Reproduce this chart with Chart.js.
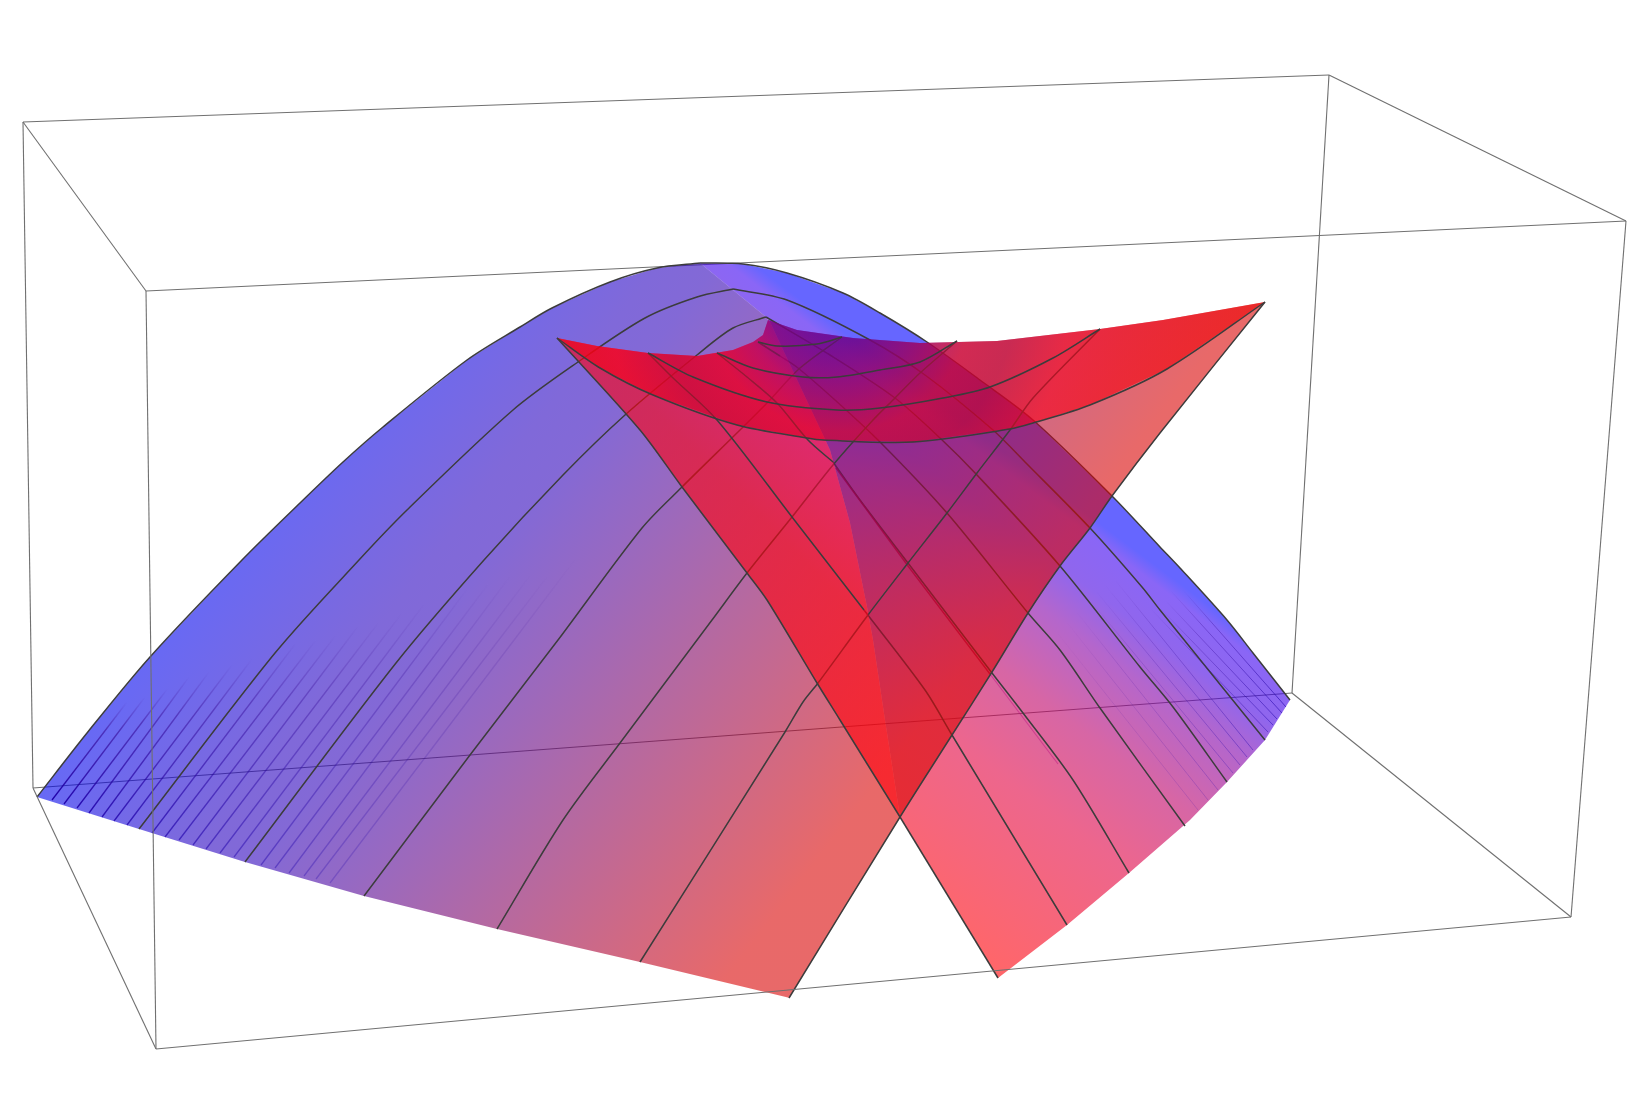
<!DOCTYPE html>
<html><head><meta charset="utf-8">
<style>html,body{margin:0;padding:0;background:#fff}canvas{display:block}</style>
<script src="https://cdn.jsdelivr.net/npm/chart.js@4/dist/chart.umd.min.js"></script>
</head><body><canvas id="c" width="1638" height="1112"></canvas>
<script>
// Box edges
const boxBack = [
 [[23,122],[1329,75]],[[1329,75],[1626,221]],[[1626,221],[146,291]],[[146,291],[23,122]],
 [[23,122],[33,788]],[[1329,75],[1292,693]],[[33,788],[1292,693]],[[1292,693],[1571,917]],[[1626,221],[1571,917]]];
const boxFront = [[[146,291],[156,1049]],[[156,1049],[1571,917]],[[156,1049],[33,788]]];
// Surface outline pieces
const silhouetteL = [[37,797],[87,733],[150,657],[242,560],[300,503],[343,462],[383,427],[467,360],[520,327],[552,308],[610,282],[657,268],[700,263]];
const silhouetteR = [[700,263],[743,264],[787,273],[843,293],[880,313],[927,342],[980,380],[1033,420],[1112,496],[1160,547],[1180,568],[1227,620],[1253,653],[1290,700]];
const frontLeftEdge = [[37,797],[139,829],[245,862],[364,896],[497,929],[640,962],[790,998]];
const frontRightEdge = [[1290,700],[1265,740],[1227,782],[1190,820],[1129,873],[1067,925],[998,978]];
const foldLine = [[900,817],[885,720],[873,640],[867,607],[850,523],[830,450],[770,322],[766,317]];
const cuspLeft = [[557,338],[597,346],[648,353],[697,356],[733,350],[753,342],[763,335],[768,320],[766,317]];
const cuspRight = [[766,317],[768,320],[797,330],[853,338],[920,343],[997,341],[1100,329],[1163,320],[1265,302]];
// Mesh curves
const arc1L = [[139,829],[275,653],[359,560],[407,510],[513,410],[578,362],[645,318],[697,297],[733,289]];
const arc1R = [[733,289],[787,300],[870,340],[925,375],[993,430],[1025,462],[1090,528],[1142,587],[1160,610],[1227,693],[1265,740]];
const arc2L = [[245,862],[396,663],[484,560],[563,475],[625,415],[697,355],[733,328],[766,317]];
const arc2R = [[766,317],[830,355],[895,398],[940,438],[977,475],[1060,566],[1140,667],[1173,707],[1227,782]];
const arc3L = [[364,896],[470,755],[558,640],[642,528],[682,487],[740,430],[768,402],[800,368],[842,337]];
const arc3Rback = [[780,356],[798,368],[835,400],[880,442],[947,513],[1028,613],[1060,650],[1100,708],[1185,826]];
const arc3Rfront = [[758,342],[780,356]];
const arc4L = [[497,929],[563,820],[620,743],[712,620],[747,573],[792,517],[833,465],[873,420],[895,398],[920,373],[957,341]];
const arc4Rfront = [[717,353],[747,377],[777,403],[808,440],[833,462]];
const arc4Rback = [[833,462],[860,500],[908,563],[992,673],[1023,713],[1073,780],[1129,873]];
const arc5L = [[640,962],[785,732],[803,702],[818,683],[868,615],[908,563],[947,513],[977,473],[1010,430],[1033,398],[1100,329]];
const arc5Rfront = [[648,353],[672,377],[717,420],[792,517],[864,610]];
const arc5Rback = [[864,610],[925,690],[952,735],[1067,925]];
const arc6L = [[789,998],[900,817],[952,735],[992,672],[1028,613],[1060,566],[1090,528],[1112,496],[1160,433],[1265,302]];
const arc6Rfront = [[557,338],[640,430],[682,487],[747,573],[767,600],[817,683],[840,720],[900,817]];
const arc6Rback = [[900,817],[998,978]];
const capFront = [[557,338],[600,368],[653,395],[737,425],[807,438],[823,440],[913,442],[1010,429],[1033,423],[1090,405],[1167,369],[1265,302]];
const capMid5 = [[648,353],[693,377],[767,402],[837,410],[880,408],[943,398],[990,387],[1053,358],[1100,329]];
const capMid4 = [[717,353],[753,368],[803,377],[837,377],[880,370],[920,362],[957,341]];
const capMid3 = [[758,342],[777,346],[817,344],[842,337]];
const shadowInner = [[836,468],[908,566],[990,674]];
const shadowOuter = [[990,674],[1058,764]];
// Fine mesh lines near the surface edges: [from, to]
const fineLeft = [
 [[52,800],[127,702]],[[64,804],[145,697]],[[77,808],[168,688]],[[89,813],[189,677]],[[102,817],[209,672]],[[114,821],[232,665]],[[127,825],[252,659]],
 [[152,833],[296,643]],[[165,837],[316,640]],[[179,840],[336,635]],[[193,845],[359,625]],[[206,849],[379,622]],[[220,853],[402,613]],[[234,857],[425,603]],
 [[261,865],[468,588]],[[275,868],[489,583]],[[289,873],[511,575]],[[304,876],[532,573]],[[316,879],[550,573]],[[330,883],[577,557]]];
const fineRight = [
 [[1286,707],[1183,590]],[[1282,713],[1170,590]],[[1277,719],[1165,600]],[[1273,725],[1160,608]],[[1268,732],[1150,608]],
 [[1253,750],[1115,580]],[[1247,757],[1105,585]],[[1240,765],[1095,590]],[[1233,773],[1090,600]],
 [[1218,790],[1075,610]],[[1208,800],[1065,620]],[[1198,810],[1055,630]]];

const LINE = '#3c3c3c', BOX = '#707070';
const canvas = document.getElementById('c');
const g = canvas.getContext('2d');
function linear(x0,y0,x1,y1,stops){const h=g.createLinearGradient(x0,y0,x1,y1);stops.forEach(s=>h.addColorStop(s[0],s[1]));return h;}
const A = 0.6;
const rgba = (r,gg,b,a=A)=>`rgba(${r},${gg},${b},${a})`;
const sheetLFill = linear(402,309,929,715,[[0,rgba(0,5,240)],[0.133,rgba(22,5,216)],[0.2625,rgba(43,5,192)],[0.333,rgba(48,5,187)],[0.475,rgba(82,5,152)],[1,rgba(217,5,5)]]);
const sheetRFill = linear(144,-192,-109,146,[[0,rgba(0,0,255)],[0.036,rgba(60,0,240)],[0.137,rgba(70,0,225)],[0.242,rgba(130,0,170)],[0.417,rgba(188,0,105)],[0.618,rgba(225,0,65)],[1,rgba(255,0,5)]]);
const axisP = t => [-0.7*t/0.98, 0.7*t/0.98];
const [fx0,fy0]=axisP(-320), [fx1,fy1]=axisP(-50);
const foldFrontFill = linear(fx0,fy0,fx1,fy1,[[0,rgba(130,0,170)],[0.13,rgba(255,0,80)],[0.556,rgba(255,0,15)],[1,rgba(255,0,10)]]);
const capFill = (()=>{const h=g.createRadialGradient(840,300,0,840,300,425);
 [[0,rgba(100,0,150)],[0.1,rgba(115,0,135)],[0.17,rgba(150,0,110)],[0.31,rgba(225,0,35)],[0.41,rgba(205,0,40)],[0.54,rgba(250,0,25)],[0.67,rgba(245,0,15)],[1,rgba(235,0,0)]].forEach(s=>h.addColorStop(s[0],s[1]));return h;})();

const pts = a => a.map(p=>({x:p[0],y:p[1]}));
const poly = (a,fill) => ({data:pts(a),showLine:true,pointRadius:0,borderWidth:0,borderColor:'transparent',fill:'shape',backgroundColor:fill,tension:0});
const line = (a,color=LINE,w=1.5,t=0.3) => ({data:pts(a),showLine:true,pointRadius:0,borderWidth:w,borderColor:color,fill:false,tension:t,borderJoinStyle:'round'});
const fine = (seg,i,n,k=1,w=1.3) => {const a=seg[0],b=seg[1];const s=k*(1-0.8*i/n);
 return line(seg,linear(a[0],a[1],b[0],b[1],[[0,`rgba(30,0,170,${s})`],[0.7,`rgba(55,10,150,${s*0.6})`],[1,'rgba(70,20,150,0)']]),w,0);};

const sheetL = [...silhouetteL, ...cuspRight, ...[...arc6L].reverse(), ...[...frontLeftEdge].reverse()];
const rightPoly = [[900,817],...arc6Rback.slice(1),...frontRightEdge.slice().reverse(),...silhouetteR.slice().reverse(),...foldLine.slice().reverse()];
const leftPoly = [...foldLine,...cuspLeft.slice().reverse(),...arc6Rfront.slice(1)];
const capPoly = [...cuspLeft,...cuspRight.slice(1),...capFront.slice().reverse()];

const layers = [
 ...boxBack.map(e=>line(e,BOX,1.1,0)),
 poly(rightPoly,sheetRFill),
 line(silhouetteR),line(arc1R),line(arc2R),line(arc3Rback),line(arc4Rback),line(arc5Rback),
 line(shadowInner,'rgba(170,0,70,0.8)',1.4,0),line(shadowOuter,'rgba(190,20,130,0.5)',1.1,0),
 ...fineRight.map((s,i)=>fine(s,i,fineRight.length,0.6,1)),
 poly(sheetL,sheetLFill),
 ...fineLeft.map((s,i)=>fine(s,i,fineLeft.length)),
 line(silhouetteL),line(arc1L),line(arc2L),line(arc3L),line(arc4L),line(arc5L),line(arc6L),
 poly(leftPoly,foldFrontFill),
 line(arc3Rfront),line(arc4Rfront),line(arc5Rfront),line(arc6Rfront),line(arc6Rback),
 poly(capPoly,capFill),
 line(capFront),line(capMid5),line(capMid4),line(capMid3),
 ...boxFront.map(e=>line(e,BOX,1.1,0))
];

new Chart(canvas,{type:'scatter',
 data:{datasets:layers.slice().reverse()},
 options:{responsive:false,animation:false,
  layout:{padding:0},
  plugins:{legend:{display:false},tooltip:{enabled:false},title:{display:false}},
  scales:{
   x:{type:'linear',min:0,max:1638,display:false},
   y:{type:'linear',min:0,max:1112,reverse:true,display:false}}}});
</script></body></html>
